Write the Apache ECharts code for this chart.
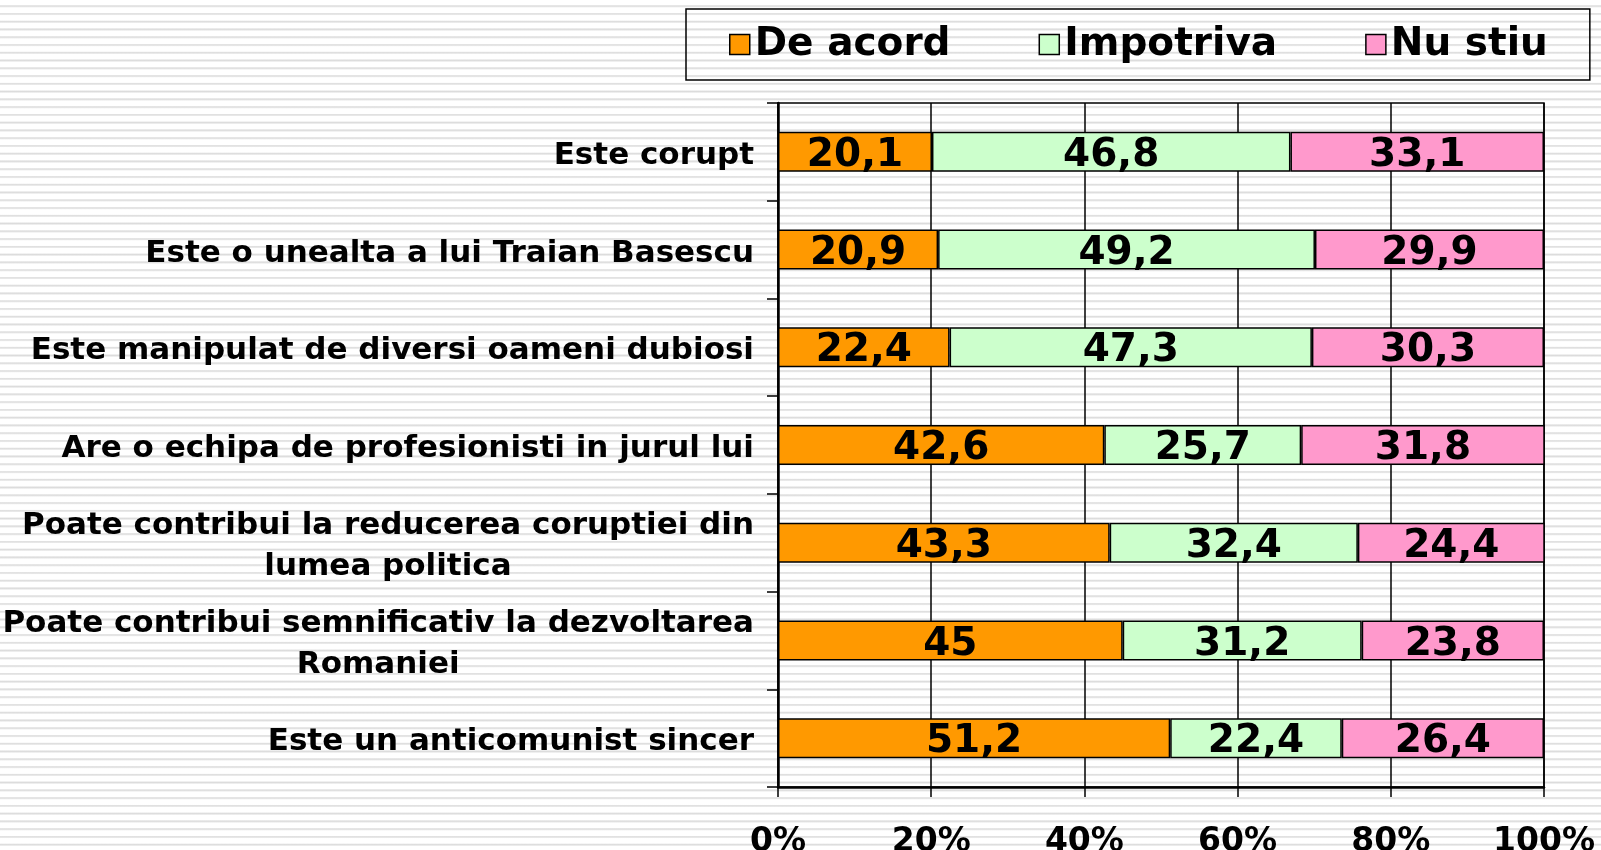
<!DOCTYPE html>
<html>
<head>
<meta charset="utf-8">
<script src="https://cdn.jsdelivr.net/npm/echarts@6/dist/echarts.min.js"></script>
<style>
  html, body {
    margin: 0;
    padding: 0;
    width: 1601px;
    height: 850px;
    overflow: hidden;
    background-color: #fff;
    background-image: repeating-linear-gradient(
      to bottom,
      #fff 0px, #fff 4.8px,
      #ebebeb 5.2px, #dcdcdc 6.1px, #ebebeb 7px,
      #fff 7.764px
    );
  }
  #chart {
    width: 1601px;
    height: 850px;
  }
</style>
</head>
<body>
<div id="chart"></div>
<script>
// categories (top to bottom)
const categories = [
  'Este corupt',
  'Este o unealta a lui Traian Basescu',
  'Este manipulat de diversi oameni dubiosi',
  'Are o echipa de profesionisti in jurul lui',
  'Poate contribui la reducerea coruptiei din\nlumea politica',
  'Poate contribui semnificativ la dezvoltarea\nRomaniei',
  'Este un anticomunist sincer'
];

const seriesNames = ['De acord', 'Impotriva', 'Nu stiu'];
const deAcord = [20.1, 20.9, 22.4, 42.6, 43.3, 45, 51.2];
const impotriva = [46.8, 49.2, 47.3, 25.7, 32.4, 31.2, 22.4];
const nuStiu = [33.1, 29.9, 30.3, 31.8, 24.4, 23.8, 26.4];

const colors = ['#FF9900', '#CCFFCC', '#FF99CC'];
const FONT = 'DejaVu Sans';

const chart = echarts.init(document.getElementById('chart'));

const makeSeries = (name, data, color) => ({
  name: name,
  type: 'bar',
  stack: 'total',
  barWidth: 40,
  data: data,
  itemStyle: {
    color: color,
    borderColor: '#000',
    borderWidth: 1.5
  },
  label: {
    show: true,
    position: 'inside',
    offset: [0, 4],
    color: '#000',
    fontFamily: FONT,
    fontWeight: 'bold',
    fontSize: 39,
    formatter: p => String(p.value).replace('.', ',')
  },
  emphasis: { disabled: true }
});

const option = {
  backgroundColor: 'transparent',
  animation: false,
  legend: {
    data: seriesNames,
    left: 686,
    top: 9,
    padding: [16, 42, 16, 43],
    itemGap: 88,
    itemWidth: 20,
    itemHeight: 20,
    icon: 'rect',
    borderColor: '#000',
    borderWidth: 1.5,
    itemStyle: { borderColor: '#000', borderWidth: 1.5 },
    textStyle: {
      color: '#000',
      fontFamily: FONT,
      fontWeight: 'bold',
      fontSize: 39,
      padding: [5, 0, 0, 0]
    }
  },
  grid: {
    left: 778,
    right: 57,
    top: 103,
    bottom: 63,
    outerBoundsMode: 'none',
    containLabel: false,
    show: true,
    borderColor: '#000',
    borderWidth: 1.5,
    backgroundColor: 'transparent'
  },
  xAxis: {
    type: 'value',
    min: 0,
    max: 100,
    interval: 20,
    axisLine: { show: true, lineStyle: { color: '#000', width: 2.5 } },
    axisTick: { show: true, length: 10, lineStyle: { color: '#000', width: 1.5 } },
    splitLine: { show: true, lineStyle: { color: '#000', width: 1.5 } },
    axisLabel: {
      margin: 39,
      color: '#000',
      fontFamily: FONT,
      fontWeight: 'bold',
      fontSize: 33,
      formatter: '{value}%'
    }
  },
  yAxis: {
    type: 'category',
    inverse: true,
    data: categories,
    axisLine: { show: true, lineStyle: { color: '#000', width: 2.5 } },
    axisTick: { show: true, length: 11, lineStyle: { color: '#000', width: 1.5 } },
    axisLabel: {
      margin: 24,
      color: '#000',
      padding: [8, 0, 0, 0],
      formatter: v => v.split('\n').map(s => '{c|' + s + '}').join('\n'),
      rich: {
        c: {
          align: 'center',
          color: '#000',
          fontFamily: FONT,
          fontWeight: 'bold',
          fontSize: 31,
          lineHeight: 41
        }
      }
    }
  },
  series: [
    makeSeries(seriesNames[0], deAcord, colors[0]),
    makeSeries(seriesNames[1], impotriva, colors[1]),
    makeSeries(seriesNames[2], nuStiu, colors[2])
  ]
};

chart.setOption(option);
</script>
</body>
</html>
